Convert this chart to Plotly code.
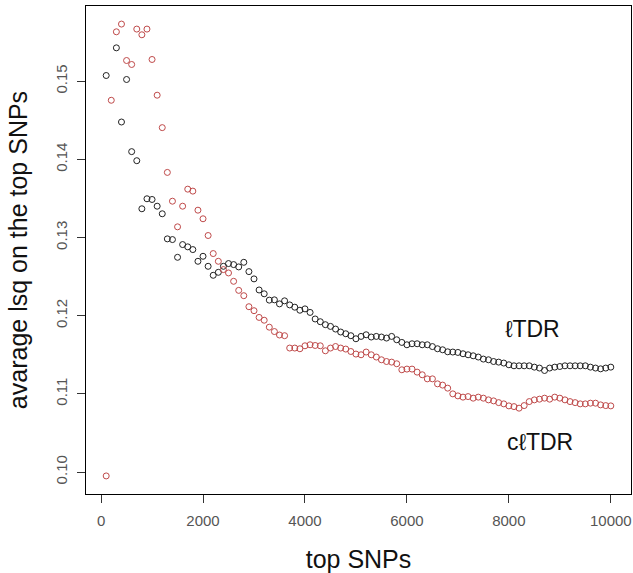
import plotly.graph_objects as go

top_snps = list(range(100, 10001, 100))

# value at 200 is hidden under the red point in the picture -> not readable
ltdr = [
    0.15073, None, 0.15427, 0.14478, 0.15022, 0.14099, 0.13983, 0.13368, 0.13496, 0.13487,
    0.13401, 0.13304, 0.12983, 0.12974, 0.12747, 0.1291, 0.12881, 0.12846, 0.12696, 0.1276,
    0.12632, 0.12517, 0.12555, 0.12632, 0.12667, 0.12654, 0.12624, 0.12683, 0.12564, 0.12471,
    0.12329, 0.1228, 0.12199, 0.12203, 0.12151, 0.1219, 0.12138, 0.12109, 0.1207, 0.12087,
    0.12042, 0.11958, 0.11923, 0.11885, 0.11863, 0.11829, 0.11791, 0.11769, 0.11744, 0.11705,
    0.11735, 0.11756, 0.11727, 0.11735, 0.11727, 0.11714, 0.11735, 0.11692, 0.11658, 0.11628,
    0.11641, 0.11641, 0.11628, 0.11628, 0.11605, 0.11577, 0.11564, 0.11538, 0.11535, 0.1153,
    0.11513, 0.115, 0.11487, 0.11471, 0.11445, 0.11436, 0.11414, 0.11406, 0.11394, 0.11372,
    0.11359, 0.11359, 0.11359, 0.11359, 0.11342, 0.1133, 0.11299, 0.1133, 0.11342, 0.1135,
    0.11359, 0.11359, 0.11359, 0.11359, 0.11359, 0.11342, 0.1133, 0.1132, 0.1133, 0.11342,
]

cltdr = [
    0.0995, 0.14756, 0.15632, 0.15731, 0.15265, 0.15214, 0.15667, 0.15594, 0.15667, 0.15278,
    0.14821, 0.14406, 0.13833, 0.13465, 0.13137, 0.13401, 0.13619, 0.13594, 0.1335, 0.1324,
    0.13026, 0.12795, 0.12696, 0.1259, 0.12547, 0.1244, 0.12324, 0.12256, 0.12115, 0.12064,
    0.11978, 0.11942, 0.11853, 0.11797, 0.11753, 0.11744, 0.11586, 0.11586, 0.11577, 0.11615,
    0.11628, 0.11619, 0.11615, 0.11551, 0.11586, 0.11606, 0.11586, 0.11573, 0.11542, 0.11509,
    0.115, 0.11535, 0.115, 0.11471, 0.11436, 0.11414, 0.11406, 0.11385, 0.11308, 0.11317,
    0.11317, 0.11278, 0.11244, 0.11192, 0.11192, 0.11128, 0.11112, 0.11073, 0.11, 0.10974,
    0.10958, 0.10965, 0.10945, 0.10958, 0.10945, 0.10923, 0.1091, 0.10888, 0.10872, 0.10846,
    0.10837, 0.10817, 0.1085, 0.10901, 0.10923, 0.10932, 0.10945, 0.10932, 0.10958, 0.10945,
    0.10923, 0.10901, 0.10888, 0.10872, 0.10872, 0.10881, 0.10881, 0.10859, 0.1085, 0.10846,
]

x_ticks = [0, 2000, 4000, 6000, 8000, 10000]
y_ticks = [0.10, 0.11, 0.12, 0.13, 0.14, 0.15]
y_tick_labels = ["0.10", "0.11", "0.12", "0.13", "0.14", "0.15"]

labels = ["ℓTDR", "cℓTDR"]
label_x = [8456, 8613]
label_y = [0.11833, 0.10385]

FONT = "Liberation Sans, Arial, sans-serif"

fig = go.Figure()
fig.add_trace(go.Scatter(
    x=top_snps, y=ltdr, mode="markers", name="ℓTDR",
    marker=dict(symbol="circle-open", size=6, color="#222222", line=dict(width=1, color="#222222")),
))
fig.add_trace(go.Scatter(
    x=top_snps, y=cltdr, mode="markers", name="cℓTDR",
    marker=dict(symbol="circle-open", size=6, color="#bf4a4a", line=dict(width=1, color="#bf4a4a")),
))

for t, xv, yv in zip(labels, label_x, label_y):
    fig.add_annotation(x=xv, y=yv, text=t, showarrow=False, xref="x", yref="y",
                       font=dict(family=FONT, size=23, color="#111111"))

all_y = [v for v in ltdr + cltdr if v is not None]
xmin, xmax = min(top_snps), max(top_snps)
ymin, ymax = min(all_y), max(all_y)
xpad = 0.04 * (xmax - xmin)
ypad = 0.04 * (ymax - ymin)

fig.update_layout(
    width=633, height=573,
    margin=dict(l=86, r=2, t=6, b=79),
    paper_bgcolor="white", plot_bgcolor="white",
    showlegend=False,
    font=dict(family=FONT),
    xaxis=dict(
        range=[xmin - xpad, xmax + xpad],
        tickvals=x_ticks, ticktext=[str(v) for v in x_ticks],
        showgrid=False, zeroline=False,
        showline=True, linecolor="black", linewidth=1, mirror=True,
        ticks="outside", ticklen=8, tickcolor="#333333",
        ticklabelstandoff=5,
        tickfont=dict(family=FONT, size=15, color="#555555"),
        title=dict(text="top SNPs", font=dict(family=FONT, size=25, color="#111111"), standoff=22),
    ),
    yaxis=dict(
        range=[ymin - ypad, ymax + ypad],
        tickvals=y_ticks, ticktext=y_tick_labels, tickangle=-90,
        showgrid=False, zeroline=False,
        showline=True, linecolor="black", linewidth=1, mirror=True,
        ticks="outside", ticklen=8, tickcolor="#333333",
        ticklabelstandoff=4,
        tickfont=dict(family=FONT, size=15, color="#555555"),
        title=dict(text="avarage lsq on the top SNPs", font=dict(family=FONT, size=25, color="#111111"), standoff=18),
    ),
)

fig.write_html("out.html", config={"displayModeBar": False},
               post_script="document.body.style.margin='0';document.body.style.overflow='hidden';")
